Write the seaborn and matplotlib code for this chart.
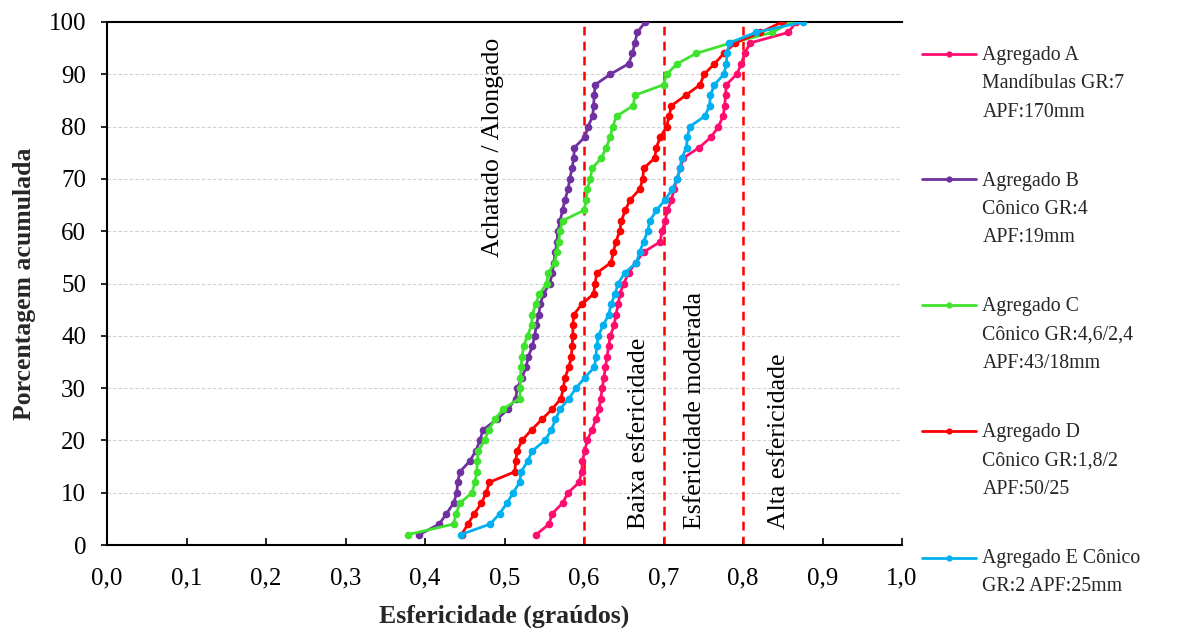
import numpy as np
import pandas as pd
import matplotlib
matplotlib.use("Agg")
import matplotlib.pyplot as plt
from matplotlib.lines import Line2D
from matplotlib.legend_handler import HandlerLine2D
import seaborn as sns

# Cumulative percentage levels (every 2 %)
percent = list(range(2, 101, 2))

# Sphericity values for each aggregate, ordered by cumulative percentage
agregado_a = [0.540, 0.556, 0.560, 0.573, 0.580, 0.594, 0.597, 0.598, 0.601, 0.604,
              0.610, 0.615, 0.619, 0.621, 0.623, 0.625, 0.627, 0.629, 0.631, 0.633,
              0.638, 0.640, 0.643, 0.645, 0.650, 0.656, 0.665, 0.675, 0.696, 0.698,
              0.702, 0.705, 0.710, 0.713, 0.717, 0.721, 0.725, 0.745, 0.760, 0.769,
              0.775, 0.777, 0.778, 0.779, 0.792, 0.798, 0.802, 0.809, 0.857, 0.867]
agregado_b = [0.393, 0.418, 0.427, 0.436, 0.440, 0.441, 0.444, 0.456, 0.464, 0.469,
              0.473, 0.490, 0.505, 0.514, 0.516, 0.522, 0.527, 0.530, 0.535, 0.538,
              0.540, 0.543, 0.545, 0.549, 0.557, 0.560, 0.562, 0.564, 0.566, 0.567,
              0.570, 0.573, 0.576, 0.580, 0.582, 0.585, 0.587, 0.588, 0.601, 0.605,
              0.611, 0.612, 0.613, 0.614, 0.633, 0.656, 0.661, 0.664, 0.667, 0.677]
agregado_c = [0.379, 0.436, 0.439, 0.444, 0.459, 0.463, 0.465, 0.466, 0.467, 0.475,
              0.480, 0.488, 0.498, 0.519, 0.520, 0.520, 0.521, 0.522, 0.524, 0.529,
              0.534, 0.535, 0.539, 0.544, 0.553, 0.555, 0.563, 0.566, 0.568, 0.570,
              0.573, 0.600, 0.603, 0.604, 0.608, 0.610, 0.622, 0.628, 0.633, 0.636,
              0.641, 0.662, 0.664, 0.700, 0.704, 0.717, 0.741, 0.785, 0.837, 0.860]
agregado_d = [0.446, 0.454, 0.462, 0.471, 0.477, 0.481, 0.513, 0.514, 0.516, 0.522,
              0.534, 0.547, 0.560, 0.571, 0.574, 0.576, 0.581, 0.584, 0.585, 0.586,
              0.586, 0.587, 0.597, 0.612, 0.614, 0.616, 0.634, 0.637, 0.640, 0.645,
              0.647, 0.652, 0.658, 0.670, 0.674, 0.675, 0.689, 0.691, 0.696, 0.704,
              0.707, 0.710, 0.728, 0.746, 0.751, 0.764, 0.776, 0.790, 0.822, 0.849]
agregado_e = [0.445, 0.482, 0.494, 0.503, 0.511, 0.519, 0.521, 0.529, 0.535, 0.551,
              0.559, 0.564, 0.570, 0.581, 0.590, 0.601, 0.613, 0.615, 0.616, 0.618,
              0.624, 0.631, 0.634, 0.639, 0.643, 0.651, 0.666, 0.670, 0.675, 0.680,
              0.683, 0.691, 0.702, 0.711, 0.717, 0.721, 0.723, 0.729, 0.730, 0.733,
              0.752, 0.758, 0.759, 0.764, 0.776, 0.779, 0.780, 0.783, 0.816, 0.875]

series_labels = [
    "Agregado A\nMandíbulas GR:7\nAPF:170mm",
    "Agregado B\nCônico GR:4\nAPF:19mm",
    "Agregado C\nCônico GR:4,6/2,4\nAPF:43/18mm",
    "Agregado D\nCônico GR:1,8/2\nAPF:50/25",
    "Agregado E Cônico\nGR:2 APF:25mm",
]
series_values = [agregado_a, agregado_b, agregado_c, agregado_d, agregado_e]
series_colors = ["#FF0D6E", "#7030A0", "#3FE32E", "#FF0000", "#00B0F0"]

# Class boundaries and their labels
class_limits = [0.6, 0.7, 0.8]
class_texts = ["Achatado / Alongado", "Baixa esfericidade",
               "Esfericidade moderada", "Alta esfericidade"]

x_ticks = [0.0, 0.1, 0.2, 0.3, 0.4, 0.5, 0.6, 0.7, 0.8, 0.9, 1.0]
x_tick_labels = ["0,0", "0,1", "0,2", "0,3", "0,4", "0,5",
                 "0,6", "0,7", "0,8", "0,9", "1,0"]
y_ticks = list(range(0, 101, 10))

frames = [pd.DataFrame({"serie": lab, "esfericidade": vals, "porcentagem": percent})
          for lab, vals in zip(series_labels, series_values)]
df = pd.concat(frames, ignore_index=True)

sns.set_theme(style="white")
plt.rcParams["font.family"] = ["Liberation Serif", "DejaVu Serif"]

fig = plt.figure(figsize=(11.84, 6.30), dpi=100)
ax = fig.add_axes([107 / 1184, 85 / 630, 795 / 1184, 523 / 630])

palette = dict(zip(series_labels, series_colors))
sns.lineplot(data=df, x="esfericidade", y="porcentagem", hue="serie",
             hue_order=series_labels, palette=palette, orient="y",
             estimator=None, sort=True, marker="o", markersize=5.5,
             markeredgewidth=0, linewidth=2.0, legend=False, ax=ax, zorder=3)

# Class boundary lines
for lim in class_limits:
    ax.plot([lim, lim], [0, 100], color="#FF0000", linestyle=(0, (3.5, 2.5)),
            linewidth=1.8, zorder=2)

# Horizontal grid
for yv in y_ticks[1:-1]:
    ax.axhline(yv, color="#D0D0D0", linestyle=(0, (3, 2)), linewidth=0.8, zorder=0)

text_kw = dict(rotation=90, fontsize=18.5, color="black")
ax.text(0.485, 97, class_texts[0], ha="center", va="top", **text_kw)
ax.text(0.669, 3, class_texts[1], ha="center", va="bottom", **text_kw)
ax.text(0.739, 3, class_texts[2], ha="center", va="bottom", **text_kw)
ax.text(0.845, 3, class_texts[3], ha="center", va="bottom", **text_kw)

ax.set_xlim(0, 1.0)
ax.set_ylim(0, 100)
ax.set_xticks(x_ticks)
ax.set_xticklabels(x_tick_labels)
ax.set_yticks(y_ticks)
ax.tick_params(axis="x", direction="in", length=5, width=1.2, labelsize=18, pad=16,
               bottom=True, colors="black")
ax.tick_params(axis="y", direction="out", length=4, width=1.2, labelsize=18, pad=11,
               left=True, colors="black")

for side in ["left", "bottom", "top"]:
    ax.spines[side].set_color("black")
    ax.spines[side].set_linewidth(1.5)
ax.spines["right"].set_visible(False)

ax.set_xlabel("Esfericidade (graúdos)", fontsize=18.5, fontweight="bold", labelpad=11)
ax.set_ylabel("Porcentagem acumulada", fontsize=18.5, fontweight="bold", labelpad=9)


class FirstLineHandler(HandlerLine2D):
    """Legend line drawn level with the first line of a multi-line label."""

    def __init__(self, shift, **kw):
        super().__init__(**kw)
        self.shift = shift

    def create_artists(self, legend, orig_handle, xdescent, ydescent, width,
                       height, fontsize, trans):
        artists = super().create_artists(legend, orig_handle, xdescent, ydescent,
                                         width, height, fontsize, trans)
        for a in artists:
            a.set_ydata(np.asarray(a.get_ydata(), dtype=float) + self.shift)
        return artists


leg_fontsize = 14.3
leg_linespacing = 1.67
line_step = leg_linespacing * 0.91 * leg_fontsize
handles = [Line2D([0], [0], color=c, linewidth=2, marker="o", markersize=4.5,
                  markeredgewidth=0) for c in series_colors]
handler_map = {h: FirstLineHandler(shift=(lab.count("\n")) * line_step / 2)
               for h, lab in zip(handles, series_labels)}
leg = fig.legend(handles, series_labels, loc="upper left",
                 bbox_to_anchor=(904 / 1184, 1 - 28 / 630), frameon=False,
                 fontsize=leg_fontsize, handlelength=2.7, handletextpad=0.35,
                 labelspacing=2.52, handler_map=handler_map)
for t in leg.get_texts():
    t.set_linespacing(leg_linespacing)

fig.savefig("out.png", dpi=100)
